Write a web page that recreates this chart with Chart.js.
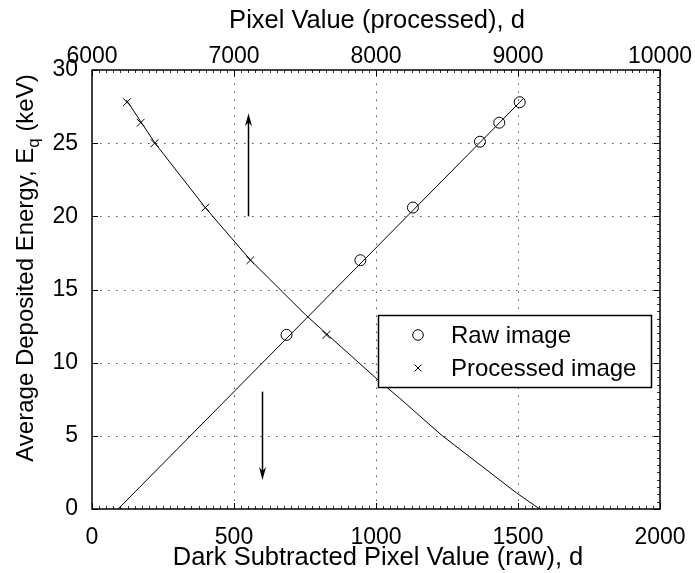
<!DOCTYPE html>
<html>
<head>
<meta charset="utf-8">
<title>Average Deposited Energy</title>
<script src="https://cdn.jsdelivr.net/npm/chart.js@4.4.1/dist/chart.umd.min.js"></script>
<style>
    html, body { margin: 0; padding: 0; background: #fff; }
    canvas { display: block; }
</style>
</head>
<body>
<canvas id="energyChart" width="695" height="573"></canvas>
<script>
// Raw image: dark subtracted pixel value (bottom axis) vs. energy
const rawPixel = [685, 945, 1130, 1366, 1434, 1506];
const rawEnergy = [11.9, 17.0, 20.6, 25.1, 26.4, 27.8];

// Processed image: pixel value (top axis) vs. energy
const procPixel = [6246, 6343, 6441, 6798, 7115, 7651];
const procEnergy = [27.8, 26.4, 25.0, 20.6, 17.0, 11.9];

// Fitted curves
const rawFitPixel = [92, 1520];
const rawFitEnergy = [0, 28.07];
const procFitPixel = [6242, 6441, 6798, 7115, 7505, 7674, 8014, 8167, 8460, 8989, 9153];
const procFitEnergy = [27.96, 25.04, 20.59, 17.02, 13.26, 11.78, 8.82, 7.57, 5.06, 1.1, 0];

// Axis ticks
const rawTicks = [0, 500, 1000, 1500, 2000];
const procTicks = [6000, 7000, 8000, 9000, 10000];
const energyTicks = [0, 5, 10, 15, 20, 25, 30];

// Arrows (raw axis x, energy from -> to)
const arrowX = [549, 600];
const arrowFrom = [20, 8.02];
const arrowTo = [27.05, 1.98];

const FONT = '"Liberation Sans", Arial, Helvetica, sans-serif';

function pts(xs, ys) {
    return xs.map((x, i) => ({ x: x, y: ys[i] }));
}

// dotted grid, box frame and tick marks
const framePlugin = {
    id: 'frame',
    beforeDatasetsDraw(chart) {
        const { ctx, chartArea: a, scales } = chart;
        const x = scales.x, x2 = scales.x2, y = scales.y;
        ctx.save();
        ctx.strokeStyle = '#555';
        ctx.lineWidth = 1;
        ctx.setLineDash([1.5, 6.5]);
        rawTicks.slice(1, -1).forEach(v => {
            const px = Math.round(x.getPixelForValue(v)) + 0.5;
            ctx.beginPath();
            ctx.moveTo(px, a.bottom);
            ctx.lineTo(px, a.top);
            ctx.stroke();
        });
        energyTicks.slice(1, -1).forEach(v => {
            const py = Math.round(y.getPixelForValue(v)) + 0.5;
            ctx.beginPath();
            ctx.moveTo(a.left, py);
            ctx.lineTo(a.right, py);
            ctx.stroke();
        });
        ctx.setLineDash([]);

        // minor ticks
        ctx.lineWidth = 1;
        ctx.strokeStyle = '#333';
        for (let v = 6000; v <= 10000; v += 50) {
            const px = Math.round(x2.getPixelForValue(v)) + 0.5;
            ctx.beginPath(); ctx.moveTo(px, a.top); ctx.lineTo(px, a.top + 3); ctx.stroke();
        }
        for (let v = 0; v <= 2000; v += 25) {
            const px = Math.round(x.getPixelForValue(v)) + 0.5;
            ctx.beginPath(); ctx.moveTo(px, a.bottom); ctx.lineTo(px, a.bottom - 3); ctx.stroke();
        }
        for (let v = 0; v <= 30; v += 0.5) {
            const py = Math.round(y.getPixelForValue(v)) + 0.5;
            ctx.beginPath(); ctx.moveTo(a.right, py); ctx.lineTo(a.right - 3, py); ctx.stroke();
        }

        // major ticks
        ctx.strokeStyle = '#000';
        rawTicks.forEach(v => {
            const px = Math.round(x.getPixelForValue(v)) + 0.5;
            ctx.beginPath(); ctx.moveTo(px, a.bottom); ctx.lineTo(px, a.bottom - 6); ctx.stroke();
        });
        procTicks.forEach(v => {
            const px = Math.round(x2.getPixelForValue(v)) + 0.5;
            ctx.beginPath(); ctx.moveTo(px, a.top); ctx.lineTo(px, a.top + 6); ctx.stroke();
        });
        energyTicks.forEach(v => {
            const py = Math.round(y.getPixelForValue(v)) + 0.5;
            ctx.beginPath(); ctx.moveTo(a.left, py); ctx.lineTo(a.left + 6, py); ctx.stroke();
            ctx.beginPath(); ctx.moveTo(a.right, py); ctx.lineTo(a.right - 6, py); ctx.stroke();
        });

        // box
        ctx.lineWidth = 1.5;
        ctx.strokeRect(a.left, a.top, a.right - a.left, a.bottom - a.top);
        ctx.restore();
    }
};

function drawArrow(ctx, px, y0, y1) {
    const dir = y1 < y0 ? -1 : 1;
    ctx.beginPath();
    ctx.moveTo(px, y0);
    ctx.lineTo(px, y1 - dir * 8);
    ctx.stroke();
    ctx.beginPath();
    ctx.moveTo(px, y1);
    ctx.lineTo(px - 3.5, y1 - dir * 13);
    ctx.lineTo(px, y1 - dir * 9);
    ctx.lineTo(px + 3.5, y1 - dir * 13);
    ctx.closePath();
    ctx.fill();
}

// arrows, legend box and axis titles
const overlayPlugin = {
    id: 'overlay',
    afterDatasetsDraw(chart) {
        const { ctx, scales } = chart;
        const x = scales.x, y = scales.y;
        ctx.save();
        ctx.strokeStyle = '#000';
        ctx.fillStyle = '#000';
        ctx.lineWidth = 1.5;
        arrowX.forEach((v, i) => {
            const px = Math.round(x.getPixelForValue(v)) + 0.5;
            drawArrow(ctx, px, y.getPixelForValue(arrowFrom[i]), y.getPixelForValue(arrowTo[i]));
        });

        // legend
        const lx = 378.5, ly = 315.5, lw = 273, lh = 72;
        ctx.fillStyle = '#fff';
        ctx.fillRect(lx, ly, lw, lh);
        ctx.lineWidth = 1.5;
        ctx.strokeRect(lx, ly, lw, lh);
        ctx.lineWidth = 1;
        ctx.beginPath();
        ctx.arc(418, 335, 5.3, 0, Math.PI * 2);
        ctx.stroke();
        ctx.beginPath();
        ctx.moveTo(414.5, 364.5); ctx.lineTo(421.5, 371.5);
        ctx.moveTo(421.5, 364.5); ctx.lineTo(414.5, 371.5);
        ctx.stroke();
        ctx.fillStyle = '#000';
        ctx.font = '24px ' + FONT;
        ctx.textAlign = 'left';
        ctx.textBaseline = 'middle';
        ctx.fillText(chart.data.datasets[1].label, 451, 336);
        ctx.fillText(chart.data.datasets[3].label, 451, 369);
        ctx.restore();
    },
    afterDraw(chart) {
        const { ctx, chartArea: a } = chart;
        const cx = (a.left + a.right) / 2;
        ctx.save();
        ctx.fillStyle = '#000';
        ctx.font = '25.5px ' + FONT;
        ctx.textAlign = 'center';
        ctx.textBaseline = 'alphabetic';
        ctx.fillText('Dark Subtracted Pixel Value (raw), d', cx + 2, 565);
        ctx.fillText('Pixel Value (processed), d', cx + 1, 28);

        // y title with subscript
        const main = 'Average Deposited Energy, E';
        const sub = 'q';
        const tail = ' (keV)';
        ctx.font = '24px ' + FONT;
        const w1 = ctx.measureText(main).width;
        const w3 = ctx.measureText(tail).width;
        ctx.font = '17px ' + FONT;
        const w2 = ctx.measureText(sub).width;
        ctx.translate(33, 268);
        ctx.rotate(-Math.PI / 2);
        ctx.textAlign = 'left';
        let tx = -(w1 + w2 + w3) / 2;
        ctx.font = '24px ' + FONT;
        ctx.fillText(main, tx, 0);
        tx += w1;
        ctx.font = '17px ' + FONT;
        ctx.fillText(sub, tx, 6);
        tx += w2;
        ctx.font = '24px ' + FONT;
        ctx.fillText(tail, tx, 0);
        ctx.restore();
    }
};

const tickFont = { family: FONT, size: 23 };
const plain = v => String(v);

new Chart(document.getElementById('energyChart'), {
    type: 'scatter',
    data: {
        datasets: [
            {
                label: 'Raw fit',
                data: pts(rawFitPixel, rawFitEnergy),
                xAxisID: 'x',
                showLine: true,
                borderColor: '#000',
                borderWidth: 1,
                pointRadius: 0
            },
            {
                label: 'Raw image',
                data: pts(rawPixel, rawEnergy),
                xAxisID: 'x',
                pointStyle: 'circle',
                pointRadius: 5.5,
                borderColor: '#000',
                borderWidth: 1,
                backgroundColor: 'rgba(0,0,0,0)'
            },
            {
                label: 'Processed fit',
                data: pts(procFitPixel, procFitEnergy),
                xAxisID: 'x2',
                showLine: true,
                borderColor: '#000',
                borderWidth: 1,
                pointRadius: 0
            },
            {
                label: 'Processed image',
                data: pts(procPixel, procEnergy),
                xAxisID: 'x2',
                pointStyle: 'crossRot',
                pointRadius: 5.5,
                borderColor: '#000',
                borderWidth: 1
            }
        ]
    },
    options: {
        responsive: false,
        animation: false,
        layout: { padding: { right: 35 } },
        plugins: {
            legend: { display: false },
            tooltip: { enabled: false }
        },
        scales: {
            x: {
                type: 'linear',
                position: 'bottom',
                min: rawTicks[0],
                max: rawTicks[rawTicks.length - 1],
                afterBuildTicks: s => { s.ticks = rawTicks.map(v => ({ value: v })); },
                afterFit: s => { s.height = 64; },
                grid: { display: false },
                border: { display: false },
                ticks: { color: '#000', font: tickFont, padding: 7, maxRotation: 0, callback: plain }
            },
            x2: {
                type: 'linear',
                position: 'top',
                min: procTicks[0],
                max: procTicks[procTicks.length - 1],
                afterBuildTicks: s => { s.ticks = procTicks.map(v => ({ value: v })); },
                afterFit: s => { s.height = 70; },
                grid: { display: false },
                border: { display: false },
                ticks: { color: '#000', font: tickFont, padding: -8, maxRotation: 0, callback: plain }
            },
            y: {
                type: 'linear',
                position: 'left',
                min: energyTicks[0],
                max: energyTicks[energyTicks.length - 1],
                afterBuildTicks: s => { s.ticks = energyTicks.map(v => ({ value: v })); },
                afterFit: s => { s.width = 92; },
                grid: { display: false },
                border: { display: false },
                ticks: { color: '#000', font: tickFont, padding: 6, callback: plain }
            }
        }
    },
    plugins: [framePlugin, overlayPlugin]
});
</script>
</body>
</html>
